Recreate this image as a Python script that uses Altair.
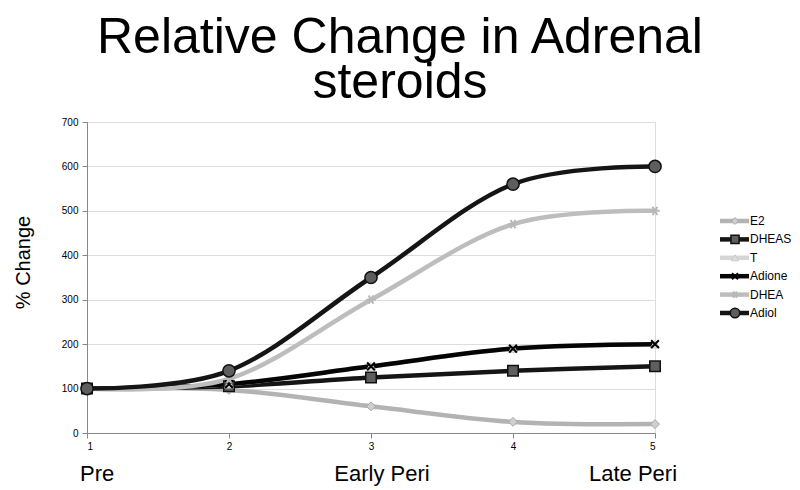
import altair as alt
import pandas as pd

# ---- data ----
x_vals = [1, 2, 3, 4, 5]
series_names = ["E2", "DHEAS", "T", "Adione", "DHEA", "Adiol"]
E2 = [100, 97, 60, 25, 20]
DHEAS = [100, 105, 125, 140, 150]
T = [100, 110, 150, 190, 200]
Adione = [100, 110, 150, 190, 200]
DHEA = [100, 122, 300, 470, 500]
Adiol = [100, 140, 350, 560, 600]
y_ticks = [0, 100, 200, 300, 400, 500, 600, 700]
stage_labels = ["Pre", "Early Peri", "Late Peri"]
stage_x = [1, 3, 5]

values = {"E2": E2, "DHEAS": DHEAS, "T": T, "Adione": Adione, "DHEA": DHEA, "Adiol": Adiol}
rows = []
for s in series_names:
    for x, v in zip(x_vals, values[s]):
        rows.append({"series": s, "x": x, "value": v})
df = pd.DataFrame(rows)
legend_df = pd.DataFrame({"series": series_names})
stage_df = pd.DataFrame({"label": stage_labels, "x": stage_x})

FONT = "Liberation Sans"
X_PATH = "M-1,-1L1,1M-1,1L1,-1"
AST_PATH = "M-1,0L1,0M-0.5,-0.87L0.5,0.87M-0.5,0.87L0.5,-0.87"

style = {
    "E2": dict(line="#b3b3b3", shape="diamond", fill="#cfcfcf", stroke="#a8a8a8", size=80, sw=1),
    "DHEAS": dict(line="#151515", shape="square", fill="#5e5e5e", stroke="#111111", size=110, sw=1.5),
    "T": dict(line="#d6d6d6", shape="triangle-up", fill="#dedede", stroke="#cccccc", size=80, sw=1),
    "Adione": dict(line="#050505", shape=X_PATH, fill="transparent", stroke="#000000", size=60, sw=2),
    "DHEA": dict(line="#bdbdbd", shape=AST_PATH, fill="transparent", stroke="#b8b8b8", size=90, sw=2),
    "Adiol": dict(line="#151515", shape="circle", fill="#5e5e5e", stroke="#111111", size=150, sw=1.5),
}

W, H = 568, 311
xs = alt.Scale(domain=[1, 5], nice=False, zero=False)
ys = alt.Scale(domain=[0, 700], nice=False)
x_enc = alt.X("x:Q", scale=xs, axis=alt.Axis(values=x_vals, format="d", grid=False, title=None,
                                               tickSize=5, labelPadding=3))
y_enc = alt.Y("value:Q", scale=ys, axis=alt.Axis(values=y_ticks, grid=True, title="% Change",
                                                   tickSize=5, labelPadding=4,
                                                   titleX=-54, titleY=140, titleAngle=270,
                                                   titleBaseline="bottom", titleAlign="center",
                                                   titleFontSize=20, titleFontWeight="normal",
                                                   titleFont=FONT, titleColor="#000000"))

base = alt.Chart(df)
layers = []
for s in series_names:
    st = style[s]
    layers.append(base.transform_filter(alt.datum.series == s).mark_line(
        interpolate="cardinal", strokeWidth=4.5, color=st["line"]).encode(x=x_enc, y=y_enc))
for s in series_names:
    st = style[s]
    layers.append(base.transform_filter(alt.datum.series == s).mark_point(
        shape=st["shape"], filled=True, fill=st["fill"], stroke=st["stroke"], strokeWidth=st["sw"],
        size=st["size"], opacity=1).encode(x=x_enc, y=y_enc))

# stage labels under the x axis
stage_align = ["left", "center", "center"]
stage_dx = [-7, 11, -22]
for i, lab in enumerate(stage_labels):
    layers.append(alt.Chart(stage_df).transform_filter(alt.datum.label == lab).mark_text(
        fontSize=22, font=FONT, align=stage_align[i], baseline="middle", dx=stage_dx[i], color="#000000"
    ).encode(x=alt.X("x:Q", scale=xs), y=alt.value(H + 41), text="label:N"))

# custom legend (line + marker), rows placed by an offset scale over the series names
yoff = alt.YOffset("series:N", scale=alt.Scale(type="point", domain=series_names, range=[0, 92], padding=0))
lbase = alt.Chart(legend_df)
for s in series_names:
    st = style[s]
    f = lbase.transform_filter(alt.datum.series == s)
    layers.append(f.mark_rule(strokeWidth=4.5, color=st["line"]).encode(
        x=alt.value(633), x2=alt.value(662), y=alt.value(99), yOffset=yoff))
    layers.append(f.mark_point(shape=st["shape"], filled=True, fill=st["fill"], stroke=st["stroke"],
                               strokeWidth=st["sw"], size=st["size"] * 0.6, opacity=1).encode(
        x=alt.value(648), y=alt.value(99), yOffset=yoff))
    layers.append(f.mark_text(align="left", baseline="middle", fontSize=12, font=FONT,
                              color="#000000").encode(
        x=alt.value(663), y=alt.value(99), yOffset=yoff, text="series:N"))

chart = alt.layer(*layers).properties(
    width=W, height=H,
    autosize=alt.AutoSizeParams(type="none"),
    padding={"left": 79, "top": 114, "right": 137, "bottom": 56},
    title=alt.TitleParams(text=["Relative Change in Adrenal", "steroids"], fontSize=50, font=FONT,
                          fontWeight="normal", color="#000000", anchor="middle", dx=29, offset=9,
                          lineHeight=45),
).configure_view(stroke=None).configure_axis(
    labelFont=FONT, labelFontSize=12, labelColor="#333333", domainColor="#999999",
    tickColor="#999999", gridColor="#c4c4c4", domainWidth=1, gridWidth=1
).configure(background="white")

chart.save("out.html", embed_options={"renderer": "svg", "actions": False})
